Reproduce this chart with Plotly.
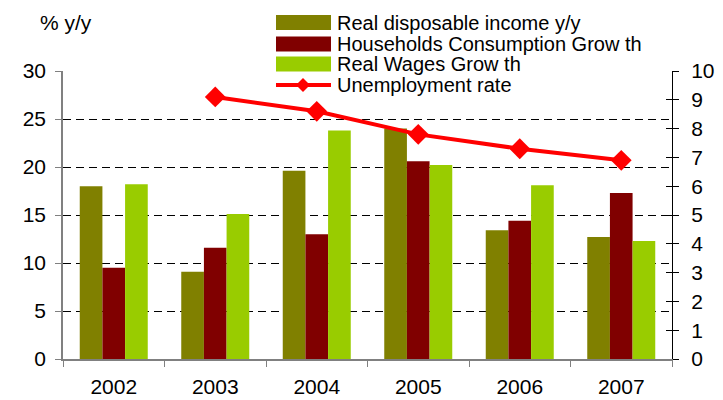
import plotly.graph_objects as go

# --- data -------------------------------------------------------------
years = ["2002", "2003", "2004", "2005", "2006", "2007"]
disposable_income = [18.0, 9.1, 19.6, 24.0, 13.4, 12.7]
consumption_growth = [9.5, 11.6, 13.0, 20.6, 14.4, 17.3]
wages_growth = [18.2, 15.1, 23.8, 20.2, 18.1, 12.3]
unemp_years = ["2003", "2004", "2005", "2006", "2007"]
unemployment = [9.1, 8.6, 7.8, 7.3, 6.9]

series_names = [
    "Real disposable income y/y",
    "Households Consumption Grow th",
    "Real Wages Grow th",
    "Unemployment rate",
]
colors = ["#808000", "#800000", "#99CC00", "#FF0000"]

# --- geometry ---------------------------------------------------------
W, H = 723, 400
ML, MR, MT, MB = 63, 51, 71, 41
PW, PH = W - ML - MR, H - MT - MB
FONT = "Arial, Liberation Sans, sans-serif"


def px(x):
    return (x - ML) / PW


def py(y):
    return (H - MB - y) / PH


fig = go.Figure()
for vals, name, col in zip([disposable_income, consumption_growth, wages_growth],
                           series_names[:3], colors[:3]):
    fig.add_trace(go.Bar(x=years, y=vals, name=name, marker_color=col,
                         marker_line_width=0, showlegend=False))

fig.add_trace(go.Scatter(x=unemp_years, y=unemployment, name=series_names[3],
                         yaxis="y2", mode="lines+markers",
                         line=dict(color=colors[3], width=4),
                         marker=dict(symbol="diamond", size=16, color=colors[3]),
                         showlegend=False))

# --- hand-drawn legend box -------------------------------------------
shapes = [dict(type="rect", xref="paper", yref="paper", layer="between",
               x0=px(266), x1=px(666), y0=py(8), y1=py(93),
               fillcolor="white", line_width=0)]
annotations = []
rows_y = [22.5, 44, 64, 85]
for i, (name, col) in enumerate(zip(series_names, colors)):
    yc = rows_y[i]
    if i < 3:
        shapes.append(dict(type="rect", xref="paper", yref="paper", layer="above",
                           x0=px(276), x1=px(331), y0=py(yc + 7.5), y1=py(yc - 7.5),
                           fillcolor=col, line_width=0))
    else:
        shapes.append(dict(type="line", xref="paper", yref="paper", layer="above",
                           x0=px(276), x1=px(331), y0=py(yc), y1=py(yc),
                           line=dict(color=col, width=4)))
        d = 7
        path = (f"M{px(303 - d)},{py(yc)} L{px(303)},{py(yc - d)} "
                f"L{px(303 + d)},{py(yc)} L{px(303)},{py(yc + d)} Z")
        shapes.append(dict(type="path", xref="paper", yref="paper", layer="above",
                           path=path, fillcolor=col, line=dict(color=col, width=0)))
    annotations.append(dict(text=name, xref="paper", yref="paper",
                            x=px(335), y=py(yc), xanchor="left", yanchor="middle",
                            showarrow=False, font=dict(size=20, color="black", family=FONT)))

annotations.append(dict(text="% y/y", xref="paper", yref="paper",
                        x=px(66), y=py(22), xanchor="center", yanchor="middle",
                        showarrow=False, font=dict(size=21, color="black", family=FONT)))

fig.update_layout(
    width=W, height=H,
    margin=dict(l=ML, r=MR, t=MT, b=MB, autoexpand=False),
    paper_bgcolor="white", plot_bgcolor="white",
    font=dict(family=FONT, size=20, color="black"),
    barmode="group", bargap=0.33, bargroupgap=0,
    showlegend=False,
    shapes=shapes, annotations=annotations,
    xaxis=dict(type="category", tickson="boundaries", ticks="outside", ticklen=6,
               tickcolor="#808080", showline=True, linecolor="#808080", linewidth=1.5,
               showgrid=False, tickfont=dict(size=21), ticklabelstandoff=8,
               automargin=False),
    yaxis=dict(range=[0, 30], dtick=5, showgrid=True, gridcolor="black", gridwidth=1,
               griddash="8px,5px", zeroline=False, showline=True, linecolor="#808080",
               linewidth=1.5, ticks="outside", ticklen=6, tickcolor="#808080",
               tickfont=dict(size=21), ticklabelstandoff=5, automargin=False),
    yaxis2=dict(range=[0, 10], dtick=1, overlaying="y", side="right", showgrid=False,
                zeroline=False, showline=True, linecolor="black", linewidth=1,
                ticks="outside", ticklen=6, tickcolor="black", tickfont=dict(size=21),
                ticklabelstandoff=8, automargin=False),
    yaxis3=dict(range=[0, 10], dtick=1, overlaying="y", side="right", showgrid=False,
                zeroline=False, showline=False, ticks="inside", ticklen=6,
                tickcolor="black", showticklabels=False, automargin=False),
)

# invisible trace to activate the inner tick set on the right
fig.add_trace(go.Scatter(x=[years[0]], y=[0], yaxis="y3", mode="markers",
                         marker=dict(opacity=0), hoverinfo="skip", showlegend=False))

fig.write_html("out.html")
